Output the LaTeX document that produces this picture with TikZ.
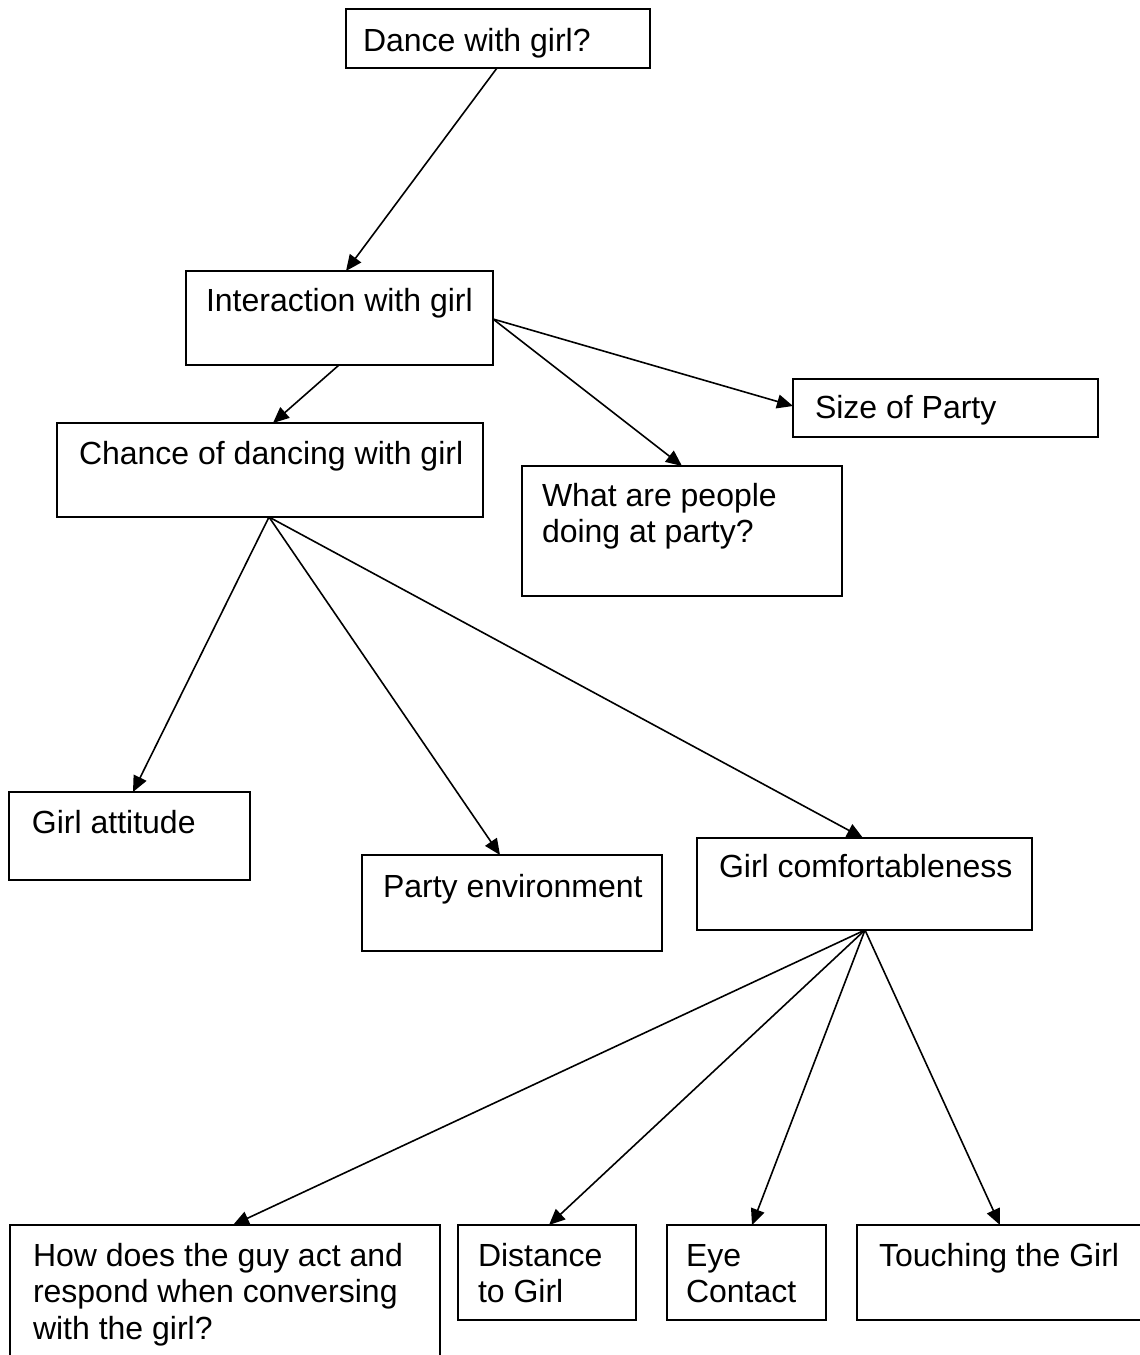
\documentclass[tikz,border=0pt]{standalone}
\usepackage{fontspec}
\setmainfont{Liberation Sans}
\usetikzlibrary{arrows.meta}
\tikzset{
  box/.style={draw=black, line width=1pt, rectangle, inner sep=0pt, outer sep=0pt, anchor=north west},
  txt/.style={inner sep=0pt, outer sep=0pt, anchor=base west, font=\fontsize{16}{18.4}\selectfont},
  arr/.style={draw=black, line width=0.8pt, -{Triangle[length=8pt,width=7pt]}, shorten >=0pt}
}
\begin{document}
\begin{tikzpicture}[x=0.5pt,y=-0.5pt]
\useasboundingbox (0,0) rectangle (1140,1355);
% boxes
\node[box, minimum width=152pt, minimum height=29.5pt] (dance) at (346,9) {};
\node[box, minimum width=153.5pt, minimum height=47pt] (int) at (186,271) {};
\node[box, minimum width=152.5pt, minimum height=29pt] (size) at (793,379) {};
\node[box, minimum width=213pt, minimum height=47pt] (chance) at (57,423) {};
\node[box, minimum width=160pt, minimum height=65pt] (what) at (522,466) {};
\node[box, minimum width=120.5pt, minimum height=44pt] (att) at (9,792) {};
\node[box, minimum width=150pt, minimum height=48pt] (party) at (362,855) {};
\node[box, minimum width=167.5pt, minimum height=46pt] (comf) at (697,838) {};
\node[box, minimum width=215pt, minimum height=75pt] (how) at (10,1225) {};
\node[box, minimum width=89pt, minimum height=47.5pt] (dist) at (458,1225) {};
\node[box, minimum width=79.5pt, minimum height=47.5pt] (eye) at (667,1225) {};
\node[box, minimum width=145pt, minimum height=47.5pt] (touch) at (857,1225) {};
% texts
\node[txt] (tdance) at (363,51) {Dance with girl?};
\node[txt] (tint) at (206,311) {Interaction with girl};
\node[txt] (tsize) at (815,418) {Size of Party};
\node[txt] (tchance) at (79,464) {Chance of dancing with girl};
\node[txt] (twhat) at (542,506) {\vtop{\hbox{What are people}\hbox{doing at party?}}};
\node[txt] (tatt) at (32,833) {Girl attitude};
\node[txt] (tparty) at (383,897) {Party environment};
\node[txt] (tcomf) at (719,877) {Girl comfortableness};
\node[txt] (thow) at (33,1266) {\vtop{\hbox{How does the guy act and}\hbox{respond when conversing}\hbox{with the girl?}}};
\node[txt] (tdist) at (478,1266) {\vtop{\hbox{Distance}\hbox{to Girl}}};
\node[txt] (teye) at (686,1266) {\vtop{\hbox{Eye}\hbox{Contact}}};
\node[txt] (ttouch) at (879,1266) {Touching the Girl};
% connectors
\draw[arr] ([xshift=75.5pt]dance.south west) -- ([xshift=80pt]int.north west);
\draw[arr] ([xshift=76.5pt]int.south west) -- ([xshift=108pt]chance.north west);
\draw[arr] ([yshift=-24pt]int.north east) -- ([yshift=-13.5pt]size.north west);
\draw[arr] ([yshift=-24pt]int.north east) -- ([xshift=80pt]what.north west);
\draw[arr] ([xshift=106pt]chance.south west) -- ([xshift=62pt]att.north west);
\draw[arr] ([xshift=106pt]chance.south west) -- ([xshift=69pt]party.north west);
\draw[arr] ([xshift=106pt]chance.south west) -- ([xshift=83pt]comf.north west);
\draw[arr] ([xshift=84pt]comf.south west) -- ([xshift=111.5pt]how.north west);
\draw[arr] ([xshift=84pt]comf.south west) -- ([xshift=45.5pt]dist.north west);
\draw[arr] ([xshift=84pt]comf.south west) -- ([xshift=42.5pt]eye.north west);
\draw[arr] ([xshift=84pt]comf.south west) -- ([xshift=71.5pt]touch.north west);
\end{tikzpicture}
\end{document}
